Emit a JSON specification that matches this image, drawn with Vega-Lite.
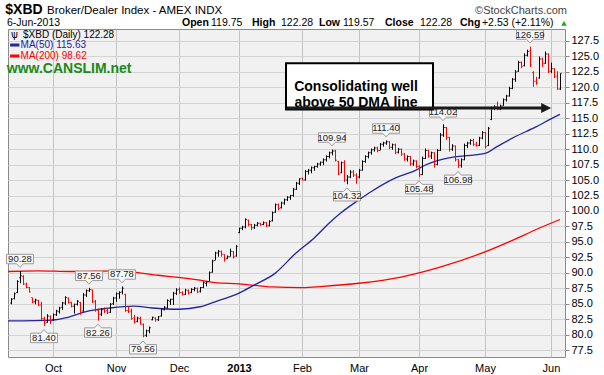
{
"$schema":"https://vega.github.io/schema/vega-lite/v6.json",
"width":557,"height":328,
"autosize":{"type":"none"},
"padding":{"left":8,"top":29,"right":39,"bottom":18},
"background":"white",
"config":{"view":{"stroke":"#8a8a8a","fill":"#f1f1f1"},"font":"Liberation Sans","text":{"font":"Liberation Sans"},"axis":{"labelOverlap":false,"labelFlush":false,"title":null}},
"data":{"values":[{}]},
"datasets":{
"bars":[
{"i":-14,"o":85.1,"h":85.9,"l":84.9,"c":85.7},{"i":-13,"o":85.8,"h":86.8,"l":85.7,"c":86.6},{"i":-12,"o":86.8,"h":88.8,"l":86.7,"c":88.6},{"i":-11,"o":89.2,"h":90.28,"l":88.3,"c":89.5},{"i":-10,"o":89.4,"h":89.6,"l":88.0,"c":88.2},{"i":-9,"o":88.2,"h":88.4,"l":87.5,"c":87.6},{"i":-8,"o":87.6,"h":87.7,"l":86.8,"c":86.9},{"i":-7,"o":86.0,"h":86.0,"l":85.1,"c":85.3},{"i":-6,"o":85.3,"h":85.8,"l":84.9,"c":85.6},{"i":-5,"o":85.5,"h":85.6,"l":84.6,"c":84.8},{"i":-4,"o":84.8,"h":85.3,"l":82.4,"c":82.6},{"i":-3,"o":82.6,"h":82.9,"l":81.4,"c":81.8},{"i":-2,"o":82.0,"h":83.3,"l":81.9,"c":83.0},{"i":-1,"o":82.9,"h":83.1,"l":81.7,"c":82.2},
{"i":0,"o":82.4,"h":83.4,"l":82.2,"c":83.2},{"i":1,"o":83.2,"h":84.0,"l":83.0,"c":83.8},{"i":2,"o":83.7,"h":84.5,"l":83.4,"c":84.3},{"i":3,"o":84.4,"h":85.3,"l":84.0,"c":85.1},{"i":4,"o":85.1,"h":86.2,"l":84.8,"c":86.0},{"i":5,"o":85.9,"h":86.0,"l":85.0,"c":85.2},{"i":6,"o":85.2,"h":85.3,"l":84.4,"c":84.6},{"i":7,"o":84.6,"h":85.0,"l":83.4,"c":84.9},{"i":8,"o":84.9,"h":85.6,"l":84.7,"c":85.4},{"i":9,"o":85.2,"h":85.3,"l":83.2,"c":83.6},{"i":10,"o":83.8,"h":86.7,"l":83.7,"c":86.4},{"i":11,"o":86.4,"h":87.3,"l":86.1,"c":87.1},{"i":12,"o":87.1,"h":87.56,"l":86.9,"c":87.3},{"i":13,"o":87.2,"h":87.3,"l":85.1,"c":85.4},{"i":14,"o":85.3,"h":85.6,"l":83.7,"c":84.0},{"i":15,"o":83.9,"h":84.2,"l":82.26,"c":83.3},{"i":16,"o":83.3,"h":84.3,"l":83.0,"c":84.0},{"i":17,"o":84.0,"h":84.4,"l":83.5,"c":83.8},{"i":18,"o":83.9,"h":84.2,"l":83.3,"c":83.6},{"i":19,"o":83.6,"h":85.1,"l":83.5,"c":84.9},{"i":20,"o":85.0,"h":86.1,"l":84.8,"c":85.9},
{"i":21,"o":85.9,"h":86.8,"l":85.3,"c":86.6},{"i":22,"o":86.6,"h":87.0,"l":85.8,"c":86.8},{"i":23,"o":86.9,"h":87.78,"l":86.5,"c":87.5},{"i":24,"o":86.5,"h":86.6,"l":83.7,"c":83.9},{"i":25,"o":83.9,"h":84.6,"l":83.5,"c":83.7},{"i":26,"o":83.8,"h":84.2,"l":82.4,"c":82.6},{"i":27,"o":82.7,"h":83.2,"l":81.8,"c":82.0},{"i":28,"o":82.1,"h":82.9,"l":82.0,"c":82.7},{"i":29,"o":82.6,"h":82.9,"l":81.6,"c":81.7},{"i":30,"o":81.6,"h":81.8,"l":79.56,"c":79.8},{"i":31,"o":79.9,"h":80.8,"l":79.6,"c":80.6},{"i":32,"o":80.6,"h":81.3,"l":80.2,"c":81.1},{"i":33,"o":82.4,"h":82.9,"l":82.3,"c":82.8},{"i":34,"o":82.7,"h":82.8,"l":82.1,"c":82.4},{"i":35,"o":82.4,"h":83.0,"l":82.2,"c":82.9},{"i":36,"o":83.0,"h":84.2,"l":82.9,"c":84.1},{"i":37,"o":84.0,"h":84.6,"l":83.9,"c":84.4},{"i":38,"o":84.3,"h":85.7,"l":84.2,"c":85.5},{"i":39,"o":85.4,"h":85.8,"l":84.8,"c":85.7},{"i":40,"o":85.7,"h":86.9,"l":84.8,"c":86.7},{"i":41,"o":86.7,"h":87.5,"l":86.4,"c":87.2},
{"i":42,"o":87.3,"h":87.6,"l":86.6,"c":86.8},{"i":43,"o":86.8,"h":87.0,"l":86.3,"c":86.5},{"i":44,"o":86.5,"h":87.4,"l":86.4,"c":87.2},{"i":45,"o":87.1,"h":87.3,"l":86.5,"c":86.7},{"i":46,"o":86.8,"h":87.5,"l":86.7,"c":87.3},{"i":47,"o":87.3,"h":87.7,"l":87.0,"c":87.5},{"i":48,"o":87.5,"h":87.6,"l":86.7,"c":86.9},{"i":49,"o":87.0,"h":87.7,"l":86.8,"c":87.6},{"i":50,"o":87.6,"h":88.6,"l":87.5,"c":88.4},{"i":51,"o":88.3,"h":88.6,"l":87.8,"c":88.5},{"i":52,"o":88.6,"h":90.2,"l":88.6,"c":90.0},{"i":53,"o":90.1,"h":92.1,"l":90.0,"c":91.9},{"i":54,"o":92.0,"h":93.4,"l":92.0,"c":93.2},{"i":55,"o":93.2,"h":93.7,"l":92.6,"c":93.5},{"i":56,"o":93.4,"h":93.6,"l":92.6,"c":93.0},{"i":57,"o":93.0,"h":93.0,"l":91.8,"c":92.2},{"i":58,"o":92.3,"h":92.8,"l":92.2,"c":92.6},{"i":59,"o":92.6,"h":93.9,"l":92.6,"c":93.5},{"i":60,"o":93.4,"h":93.5,"l":92.3,"c":92.6},{"i":61,"o":92.7,"h":94.5,"l":92.6,"c":94.3},
{"i":62,"o":96.5,"h":97.3,"l":96.4,"c":97.2},{"i":63,"o":97.2,"h":97.6,"l":96.9,"c":97.4},{"i":64,"o":97.4,"h":98.8,"l":97.2,"c":98.6},{"i":65,"o":98.5,"h":98.6,"l":97.5,"c":97.8},{"i":66,"o":97.8,"h":97.9,"l":96.9,"c":97.3},{"i":67,"o":97.3,"h":97.9,"l":97.1,"c":97.7},{"i":68,"o":97.7,"h":98.2,"l":97.5,"c":98.0},{"i":69,"o":98.0,"h":98.1,"l":97.6,"c":97.8},{"i":70,"o":97.8,"h":98.3,"l":97.7,"c":98.1},{"i":71,"o":98.1,"h":98.2,"l":97.4,"c":97.6},{"i":72,"o":97.6,"h":98.5,"l":97.5,"c":98.3},{"i":73,"o":98.4,"h":99.9,"l":98.3,"c":99.7},{"i":74,"o":99.8,"h":101.2,"l":99.7,"c":101.0},{"i":75,"o":101.0,"h":101.2,"l":100.1,"c":100.4},{"i":76,"o":100.5,"h":101.5,"l":100.4,"c":101.3},{"i":77,"o":101.3,"h":102.0,"l":101.0,"c":101.8},{"i":78,"o":101.8,"h":102.4,"l":101.6,"c":102.2},{"i":79,"o":102.2,"h":102.6,"l":101.8,"c":102.5},{"i":80,"o":102.5,"h":103.7,"l":102.3,"c":103.5},{"i":81,"o":103.5,"h":104.7,"l":103.4,"c":104.5},{"i":82,"o":104.5,"h":105.3,"l":104.2,"c":105.2},
{"i":83,"o":105.3,"h":105.4,"l":104.9,"c":105.0},{"i":84,"o":105.0,"h":106.6,"l":104.9,"c":106.4},{"i":85,"o":106.4,"h":106.8,"l":105.9,"c":106.6},{"i":86,"o":106.6,"h":107.2,"l":106.1,"c":107.0},{"i":87,"o":107.0,"h":107.3,"l":106.5,"c":107.2},{"i":88,"o":107.2,"h":107.8,"l":107.0,"c":107.6},{"i":89,"o":107.6,"h":108.0,"l":107.3,"c":107.9},{"i":90,"o":107.9,"h":108.5,"l":107.4,"c":108.3},{"i":91,"o":108.3,"h":109.0,"l":108.0,"c":108.8},{"i":92,"o":108.8,"h":109.6,"l":108.5,"c":109.4},{"i":93,"o":109.4,"h":109.94,"l":109.0,"c":109.7},{"i":94,"o":109.7,"h":109.9,"l":108.0,"c":108.2},{"i":95,"o":108.0,"h":108.1,"l":105.8,"c":106.0},{"i":96,"o":106.2,"h":108.0,"l":106.1,"c":107.8},{"i":97,"o":107.8,"h":108.2,"l":104.7,"c":105.0},{"i":98,"o":105.0,"h":105.8,"l":104.32,"c":105.5},{"i":99,"o":105.5,"h":106.6,"l":105.3,"c":106.3},{"i":100,"o":106.3,"h":106.6,"l":105.5,"c":105.8},{"i":101,"o":105.8,"h":106.1,"l":104.4,"c":105.5},
{"i":102,"o":105.5,"h":106.8,"l":105.3,"c":106.6},{"i":103,"o":106.6,"h":108.2,"l":106.5,"c":108.0},{"i":104,"o":108.0,"h":109.0,"l":107.8,"c":108.8},{"i":105,"o":108.8,"h":109.6,"l":108.5,"c":109.4},{"i":106,"o":109.4,"h":110.1,"l":109.1,"c":109.9},{"i":107,"o":109.9,"h":110.4,"l":109.6,"c":110.2},{"i":108,"o":110.2,"h":110.4,"l":109.5,"c":109.8},{"i":109,"o":109.8,"h":111.0,"l":109.8,"c":110.8},{"i":110,"o":110.8,"h":111.2,"l":110.4,"c":111.0},{"i":111,"o":111.0,"h":111.4,"l":110.7,"c":111.2},{"i":112,"o":111.2,"h":111.3,"l":110.0,"c":110.3},{"i":113,"o":110.3,"h":110.9,"l":109.9,"c":110.7},{"i":114,"o":110.7,"h":110.9,"l":109.2,"c":109.5},{"i":115,"o":109.5,"h":110.2,"l":109.3,"c":110.0},{"i":116,"o":110.0,"h":110.1,"l":108.9,"c":109.2},{"i":117,"o":109.2,"h":109.4,"l":108.1,"c":108.4},{"i":118,"o":108.4,"h":109.0,"l":108.0,"c":108.8},{"i":119,"o":108.8,"h":108.9,"l":107.3,"c":107.6},{"i":120,"o":107.6,"h":108.3,"l":107.3,"c":108.1},{"i":121,"o":108.1,"h":108.2,"l":106.9,"c":107.2},
{"i":122,"o":107.2,"h":107.4,"l":105.48,"c":105.9},{"i":123,"o":105.9,"h":108.8,"l":105.8,"c":108.5},{"i":124,"o":108.5,"h":110.1,"l":108.4,"c":109.8},{"i":125,"o":109.8,"h":109.9,"l":108.6,"c":108.9},{"i":126,"o":108.9,"h":109.6,"l":108.4,"c":109.4},{"i":127,"o":109.4,"h":109.5,"l":107.0,"c":107.5},{"i":128,"o":107.5,"h":110.0,"l":107.4,"c":109.8},{"i":129,"o":109.8,"h":112.6,"l":109.7,"c":112.3},{"i":130,"o":112.3,"h":114.02,"l":112.0,"c":113.5},{"i":131,"o":113.5,"h":113.6,"l":111.5,"c":111.9},{"i":132,"o":111.9,"h":112.0,"l":109.6,"c":110.0},{"i":133,"o":110.0,"h":110.8,"l":109.7,"c":110.5},{"i":134,"o":110.5,"h":110.6,"l":108.0,"c":108.3},{"i":135,"o":108.3,"h":108.4,"l":106.98,"c":107.4},{"i":136,"o":107.4,"h":108.5,"l":107.0,"c":108.3},{"i":137,"o":108.3,"h":110.9,"l":108.2,"c":110.6},{"i":138,"o":110.6,"h":111.2,"l":110.2,"c":111.0},{"i":139,"o":111.0,"h":111.6,"l":110.7,"c":111.4},{"i":140,"o":111.4,"h":111.7,"l":110.5,"c":110.8},{"i":141,"o":110.8,"h":111.2,"l":110.4,"c":110.6},{"i":142,"o":110.6,"h":112.0,"l":110.5,"c":111.8},{"i":143,"o":111.8,"h":112.9,"l":111.6,"c":112.7},
{"i":144,"o":112.7,"h":112.8,"l":110.1,"c":110.4},{"i":145,"o":110.6,"h":113.6,"l":110.5,"c":113.4},{"i":146,"o":114.8,"h":116.9,"l":114.7,"c":116.6},{"i":147,"o":116.6,"h":117.1,"l":116.3,"c":116.8},{"i":148,"o":116.8,"h":117.7,"l":116.3,"c":116.5},{"i":149,"o":116.5,"h":117.2,"l":116.3,"c":117.0},{"i":150,"o":117.0,"h":118.2,"l":117.0,"c":118.0},{"i":151,"o":118.0,"h":118.8,"l":117.7,"c":118.6},{"i":152,"o":118.6,"h":120.1,"l":118.5,"c":119.8},{"i":153,"o":119.8,"h":121.5,"l":119.7,"c":121.3},{"i":154,"o":121.3,"h":122.8,"l":120.9,"c":122.5},{"i":155,"o":122.6,"h":124.3,"l":122.5,"c":124.0},{"i":156,"o":124.0,"h":124.2,"l":123.1,"c":123.4},{"i":157,"o":123.5,"h":125.5,"l":123.4,"c":125.2},{"i":158,"o":125.2,"h":126.1,"l":125.0,"c":125.8},{"i":159,"o":125.9,"h":126.59,"l":123.3,"c":123.6},{"i":160,"o":122.4,"h":122.6,"l":120.1,"c":121.0},{"i":161,"o":121.0,"h":121.7,"l":120.4,"c":120.7},{"i":162,"o":121.5,"h":125.0,"l":121.4,"c":124.6},{"i":163,"o":124.6,"h":124.8,"l":123.3,"c":123.9},{"i":164,"o":123.9,"h":125.8,"l":123.8,"c":125.4},{"i":165,"o":125.4,"h":125.5,"l":122.3,"c":122.6},
{"i":166,"o":122.6,"h":124.0,"l":122.3,"c":123.0},{"i":167,"o":123.0,"h":123.1,"l":121.5,"c":121.8},{"i":168,"o":121.8,"h":122.6,"l":119.6,"c":119.75},{"i":169,"o":119.75,"h":122.28,"l":119.57,"c":122.28}
],
"ma50":[{"i":-15,"v":82.2},{"i":0,"v":82.35},{"i":5,"v":82.8},{"i":11,"v":83.7},{"i":19,"v":84.3},{"i":27,"v":84.6},{"i":33,"v":84.3},{"i":42,"v":84.1},{"i":49,"v":84.5},{"i":54,"v":85.3},{"i":62,"v":86.7},{"i":67,"v":88.0},{"i":74,"v":89.9},{"i":81,"v":93.2},{"i":87,"v":95.6},{"i":92,"v":98.0},{"i":96,"v":99.7},{"i":102,"v":101.8},{"i":106,"v":103.1},{"i":114,"v":105.3},{"i":121,"v":106.6},{"i":124,"v":107.4},{"i":132,"v":108.6},{"i":137,"v":108.9},{"i":144,"v":109.3},{"i":148,"v":110.4},{"i":154,"v":112.0},{"i":161,"v":113.6},{"i":166,"v":114.9},{"i":169,"v":115.63}],
"ma200":[{"i":-15,"v":90.2},{"i":-5,"v":90.3},{"i":6,"v":90.2},{"i":21,"v":90.3},{"i":35,"v":89.6},{"i":49,"v":88.8},{"i":54,"v":88.4},{"i":62,"v":88.2},{"i":73,"v":87.7},{"i":83,"v":87.6},{"i":90,"v":87.8},{"i":102,"v":88.3},{"i":116,"v":89.3},{"i":129,"v":90.9},{"i":142,"v":93.0},{"i":152,"v":95.0},{"i":162,"v":97.2},{"i":169,"v":98.62}],
"labels":[{"i":-11,"p":90.28,"side":"hi"},{"i":-3,"p":81.4,"side":"lo"},{"i":12,"p":87.56,"side":"hi"},{"i":15,"p":82.26,"side":"lo"},{"i":23,"p":87.78,"side":"hi"},{"i":30,"p":79.56,"side":"lo"},{"i":93,"p":109.94,"side":"hi"},{"i":98,"p":104.32,"side":"lo"},{"i":111,"p":111.4,"side":"hi"},{"i":122,"p":105.48,"side":"lo"},{"i":130,"p":114.02,"side":"hi"},{"i":135,"p":106.98,"side":"lo"},{"i":159,"p":126.59,"side":"hi"}]
},
"layer":[
{"data":{"name":"ma200"},"mark":{"type":"line","color":"#ff0000","strokeWidth":1.3,"interpolate":"monotone"},
 "encoding":{"x":{"field":"i","type":"quantitative","title":null,"scale":{"domain":[-15,170.67],"nice":false,"zero":false},
   "axis":{"orient":"bottom","values":[0,21,42,62,83,102,122,144,166],"tickCount":30,"labelExpr":"{'0':'Oct','21':'Nov','42':'Dec','62':'2013','83':'Feb','102':'Mar','122':'Apr','144':'May','166':'Jun'}[datum.value]","labelFontSize":11,"labelColor":"#000","labelFontWeight":{"condition":{"test":"datum.value == 62","value":"bold"},"value":"normal"},"grid":true,"gridColor":"#c4c4c4","domain":false,"ticks":false,"labelPadding":5,"labelOverlap":false,"labelFlush":false}},
  "y":{"field":"v","type":"quantitative","title":null,"scale":{"domain":[76.37,129.44],"nice":false,"zero":false},
   "axis":{"orient":"right","values":[77.5,80,82.5,85,87.5,90,92.5,95,97.5,100,102.5,105,107.5,110,112.5,115,117.5,120,122.5,125,127.5],"tickCount":40,"format":".1f","labelFontSize":11,"labelColor":"#000","grid":true,"gridColor":"#d4d4d4","domain":false,"tickColor":"#888","tickSize":4,"labelPadding":2,"labelOverlap":false,"labelFlush":false}}}},
{"data":{"name":"ma50"},"mark":{"type":"line","color":"#2424a0","strokeWidth":1.3,"interpolate":"monotone"},
 "encoding":{"x":{"field":"i","type":"quantitative"},"y":{"field":"v","type":"quantitative"}}},
{"data":{"name":"bars"},
 "transform":[{"window":[{"op":"lag","field":"c","as":"pc"}],"sort":[{"field":"i","order":"ascending"}]}],
 "layer":[
  {"mark":{"type":"rule","strokeWidth":1,"xOffset":0.5},
   "encoding":{"x":{"field":"i","type":"quantitative"},"y":{"field":"l","type":"quantitative"},"y2":{"field":"h"},
    "color":{"condition":{"test":"datum.c < datum.pc","value":"#ff0000"},"value":"#000000"}}},
  {"mark":{"type":"tick","orient":"horizontal","size":1,"thickness":1,"xOffset":-0.5},
   "encoding":{"x":{"field":"i","type":"quantitative"},"y":{"field":"o","type":"quantitative"},
    "color":{"condition":{"test":"datum.c < datum.pc","value":"#ff0000"},"value":"#000000"}}},
  {"mark":{"type":"tick","orient":"horizontal","size":1,"thickness":1,"xOffset":1.5},
   "encoding":{"x":{"field":"i","type":"quantitative"},"y":{"field":"c","type":"quantitative"},
    "color":{"condition":{"test":"datum.c < datum.pc","value":"#ff0000"},"value":"#000000"}}}
 ]},
{"data":{"name":"labels"},"transform":[{"filter":"datum.side == 'hi'"}],
 "mark":{"type":"point","shape":"M-1,-0.35H1V0.35H0.25L0,0.62L-0.25,0.35H-1Z","size":729,"filled":true,"fill":"#f7f7f7","stroke":"#9a9a9a","strokeWidth":1,"opacity":1,"yOffset":-12},
 "encoding":{"x":{"field":"i","type":"quantitative"},"y":{"field":"p","type":"quantitative"}}},
{"data":{"name":"labels"},"transform":[{"filter":"datum.side == 'lo'"}],
 "mark":{"type":"point","shape":"M-1,0.35H1V-0.35H0.25L0,-0.62L-0.25,-0.35H-1Z","size":729,"filled":true,"fill":"#f7f7f7","stroke":"#9a9a9a","strokeWidth":1,"opacity":1,"yOffset":12},
 "encoding":{"x":{"field":"i","type":"quantitative"},"y":{"field":"p","type":"quantitative"}}},
{"data":{"name":"labels"},"transform":[{"filter":"datum.side == 'hi'"}],
 "mark":{"type":"text","fontSize":9.5,"baseline":"middle","align":"center","dy":-12,"color":"#222"},
 "encoding":{"x":{"field":"i","type":"quantitative"},"y":{"field":"p","type":"quantitative"},"text":{"field":"p","format":".2f"}}},
{"data":{"name":"labels"},"transform":[{"filter":"datum.side == 'lo'"}],
 "mark":{"type":"text","fontSize":9.5,"baseline":"middle","align":"center","dy":12,"color":"#222"},
 "encoding":{"x":{"field":"i","type":"quantitative"},"y":{"field":"p","type":"quantitative"},"text":{"field":"p","format":".2f"}}},
{"mark":{"type":"rect","fill":"white","stroke":"#000","strokeWidth":2},
 "encoding":{"x":{"datum":77.67,"type":"quantitative"},"x2":{"datum":126.67},"y":{"datum":123.89,"type":"quantitative"},"y2":{"datum":116.41}}},
{"mark":{"type":"text","text":["Consolidating well","above 50 DMA line"],"fontSize":14,"fontWeight":"bold","lineHeight":16,"align":"center","baseline":"middle","color":"#000"},
 "encoding":{"x":{"datum":101,"type":"quantitative"},"y":{"datum":120.05,"type":"quantitative"}}},
{"mark":{"type":"rule","strokeWidth":3,"color":"#1a1a1a"},
 "encoding":{"x":{"datum":78,"type":"quantitative"},"x2":{"datum":163.5},"y":{"datum":116.66,"type":"quantitative"}}},
{"mark":{"type":"point","shape":"M-1,-1L1,0L-1,1Z","size":100,"filled":true,"color":"#1a1a1a","opacity":1},
 "encoding":{"x":{"datum":164.4,"type":"quantitative"},"y":{"datum":116.66,"type":"quantitative"}}},
{"mark":{"type":"text","text":"$XBD","fontSize":14,"fontWeight":"bold","align":"left","baseline":"alphabetic","color":"#000"},
 "encoding":{"x":{"datum":-15.9,"type":"quantitative"},"y":{"datum":131.87,"type":"quantitative"}}},
{"mark":{"type":"text","text":"Broker/Dealer Index - AMEX INDX","fontSize":11.5,"align":"left","baseline":"alphabetic","color":"#000"},
 "encoding":{"x":{"datum":-2.0,"type":"quantitative"},"y":{"datum":131.87,"type":"quantitative"}}},
{"mark":{"type":"text","text":"©StockCharts.com","fontSize":11,"align":"right","baseline":"alphabetic","color":"#444"},
 "encoding":{"x":{"datum":171.33,"type":"quantitative"},"y":{"datum":131.87,"type":"quantitative"}}},
{"mark":{"type":"text","text":"6-Jun-2013","fontSize":10.5,"align":"left","baseline":"alphabetic","color":"#000"},
 "encoding":{"x":{"datum":-15.33,"type":"quantitative"},"y":{"datum":129.93,"type":"quantitative"}}},
{"mark":{"type":"text","text":"Open","fontSize":10.5,"fontWeight":"bold","align":"left","baseline":"alphabetic","color":"#000"},
 "encoding":{"x":{"datum":43,"type":"quantitative"},"y":{"datum":129.93,"type":"quantitative"}}},
{"mark":{"type":"text","text":"119.75","fontSize":10.5,"align":"left","baseline":"alphabetic","color":"#000"},
 "encoding":{"x":{"datum":52.67,"type":"quantitative"},"y":{"datum":129.93,"type":"quantitative"}}},
{"mark":{"type":"text","text":"High","fontSize":10.5,"fontWeight":"bold","align":"left","baseline":"alphabetic","color":"#000"},
 "encoding":{"x":{"datum":66.33,"type":"quantitative"},"y":{"datum":129.93,"type":"quantitative"}}},
{"mark":{"type":"text","text":"122.28","fontSize":10.5,"align":"left","baseline":"alphabetic","color":"#000"},
 "encoding":{"x":{"datum":76,"type":"quantitative"},"y":{"datum":129.93,"type":"quantitative"}}},
{"mark":{"type":"text","text":"Low","fontSize":10.5,"fontWeight":"bold","align":"left","baseline":"alphabetic","color":"#000"},
 "encoding":{"x":{"datum":88.67,"type":"quantitative"},"y":{"datum":129.93,"type":"quantitative"}}},
{"mark":{"type":"text","text":"119.57","fontSize":10.5,"align":"left","baseline":"alphabetic","color":"#000"},
 "encoding":{"x":{"datum":96.67,"type":"quantitative"},"y":{"datum":129.93,"type":"quantitative"}}},
{"mark":{"type":"text","text":"Close","fontSize":10.5,"fontWeight":"bold","align":"left","baseline":"alphabetic","color":"#000"},
 "encoding":{"x":{"datum":110.67,"type":"quantitative"},"y":{"datum":129.93,"type":"quantitative"}}},
{"mark":{"type":"text","text":"122.28","fontSize":10.5,"align":"left","baseline":"alphabetic","color":"#000"},
 "encoding":{"x":{"datum":122.33,"type":"quantitative"},"y":{"datum":129.93,"type":"quantitative"}}},
{"mark":{"type":"text","text":"Chg","fontSize":10.5,"fontWeight":"bold","align":"left","baseline":"alphabetic","color":"#000"},
 "encoding":{"x":{"datum":135.67,"type":"quantitative"},"y":{"datum":129.93,"type":"quantitative"}}},
{"mark":{"type":"text","text":"+2.53 (+2.11%)","fontSize":10.5,"align":"left","baseline":"alphabetic","color":"#000"},
 "encoding":{"x":{"datum":143,"type":"quantitative"},"y":{"datum":129.93,"type":"quantitative"}}},
{"mark":{"type":"point","shape":"triangle-up","size":30,"filled":true,"color":"#10b010","opacity":1},
 "encoding":{"x":{"datum":170.33,"type":"quantitative"},"y":{"datum":130.35,"type":"quantitative"}}},
{"mark":{"type":"text","text":"$XBD (Daily) 122.28","fontSize":10,"align":"left","baseline":"middle","color":"#000"},
 "encoding":{"x":{"datum":-10,"type":"quantitative"},"y":{"datum":128.47,"type":"quantitative"}}},
{"mark":{"type":"text","text":"ѱ","fontSize":10,"align":"left","baseline":"middle","color":"#000"},
 "encoding":{"x":{"datum":-14,"type":"quantitative"},"y":{"datum":128.47,"type":"quantitative"}}},
{"mark":{"type":"rule","strokeWidth":3,"color":"#2424a0"},
 "encoding":{"x":{"datum":-14.3,"type":"quantitative"},"x2":{"datum":-11.2},"y":{"datum":126.85,"type":"quantitative"}}},
{"mark":{"type":"text","text":"MA(50) 115.63","fontSize":10,"align":"left","baseline":"middle","color":"#2424a0"},
 "encoding":{"x":{"datum":-10.8,"type":"quantitative"},"y":{"datum":126.85,"type":"quantitative"}}},
{"mark":{"type":"rule","strokeWidth":3,"color":"#ff0000"},
 "encoding":{"x":{"datum":-14.3,"type":"quantitative"},"x2":{"datum":-11.2},"y":{"datum":125.07,"type":"quantitative"}}},
{"mark":{"type":"text","text":"MA(200) 98.62","fontSize":10,"align":"left","baseline":"middle","color":"#ff0000"},
 "encoding":{"x":{"datum":-10.8,"type":"quantitative"},"y":{"datum":125.07,"type":"quantitative"}}},
{"mark":{"type":"text","text":"www.CANSLIM.net","fontSize":14,"fontWeight":"bold","align":"left","baseline":"middle","color":"#1a8a1a"},
 "encoding":{"x":{"datum":-15.4,"type":"quantitative"},"y":{"datum":123.0,"type":"quantitative"}}}
]
}
